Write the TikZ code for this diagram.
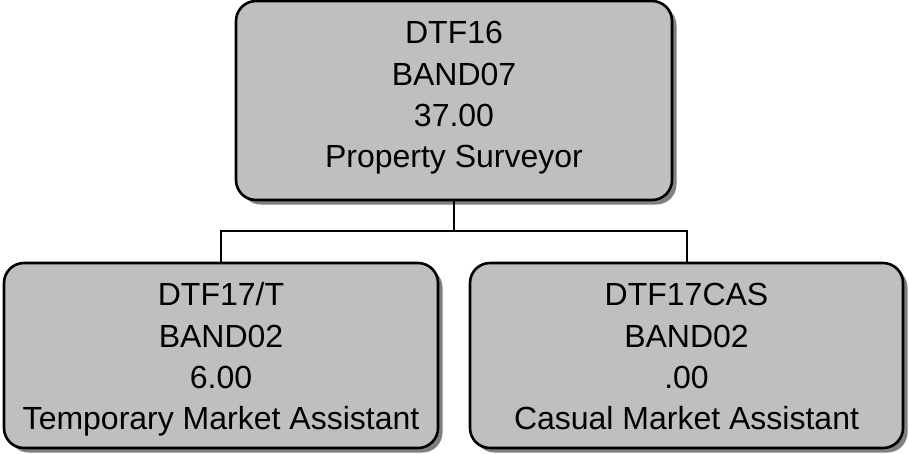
\documentclass[tikz,border=0pt]{standalone}
\usepackage{fontspec}
\setmainfont{Liberation Sans}
\usetikzlibrary{shadows}
\begin{document}
\begin{tikzpicture}[x=1pt,y=-1pt,
    post/.style={draw, line width=2.6pt, fill=black!25, rounded corners=20pt,
      align=center, inner sep=0pt, font=\fontsize{32}{41.3}\selectfont,
      drop shadow={shadow xshift=4.5pt, shadow yshift=-4.5pt, fill=black!50, opacity=1}},
    link/.style={line width=2pt}]
    \useasboundingbox (0,0) rectangle (909,453);
    \node[post, minimum width=436pt, minimum height=199pt] (head) at (454,100.5)
      {\strut DTF16\\BAND07\\37.00\\Property Surveyor\rule[-18.5pt]{0pt}{1pt}};
    \node[post, minimum width=434pt, minimum height=185pt] (temp) at (221,355.5)
      {\rule{0pt}{37pt}DTF17/T\\BAND02\\6.00\\Temporary Market Assistant\strut};
    \node[post, minimum width=433pt, minimum height=185pt] (casual) at (686.5,355.5)
      {\rule{0pt}{37pt}DTF17CAS\\BAND02\\.00\\Casual Market Assistant\strut};
    \coordinate (bus) at (454,231);
    \draw[link] (head.south) -- (bus);
    \draw[link] (temp.north) |- (bus) -| (casual.north);
\end{tikzpicture}
\end{document}
